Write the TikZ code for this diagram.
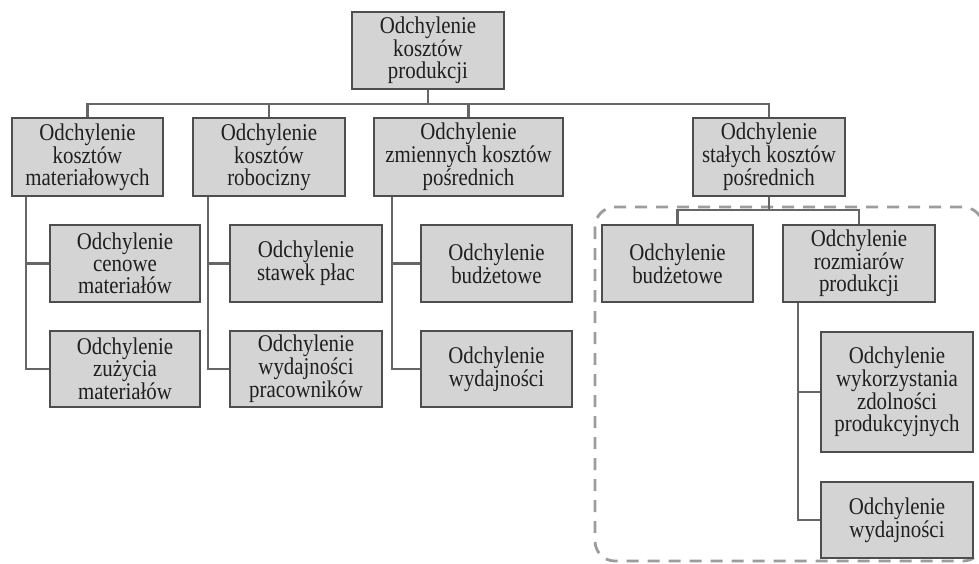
\documentclass[tikz,border=0pt]{standalone}
\usepackage{fontspec}
\setmainfont{Liberation Serif}[FakeStretch=0.87]
\definecolor{boxfill}{HTML}{D4D4D4}
\definecolor{boxline}{HTML}{4E4E4E}
\definecolor{conn}{HTML}{666666}
\definecolor{dashc}{HTML}{9C9C9C}
\tikzset{
  vbox/.style={draw=boxline, fill=boxfill, line width=2.6pt, align=center,
    inner sep=0pt, font=\fontsize{24}{21.8}\selectfont, text=black!88},
  link/.style={draw=conn, line width=2.2pt},
  grp/.style={draw=dashc, line width=2.8pt, dash pattern=on 12pt off 9pt, rounded corners=20pt}
}
\begin{document}
\begin{tikzpicture}[x=1pt,y=-1pt]
\useasboundingbox (0,0) rectangle (979,563);
\begin{scope}
\clip (0,0) rectangle (979,563);
\draw[grp] (595,207) rectangle (983,561);
\end{scope}
\node[vbox, minimum width=152pt, minimum height=77pt] (top) at (428,50.5) {Odchylenie\\kosztów\\produkcji};
\node[vbox, minimum width=151pt, minimum height=78pt] (b1) at (87.5,157) {Odchylenie\\kosztów\\materiałowych};
\node[vbox, minimum width=152pt, minimum height=78pt] (b2) at (269,157) {Odchylenie\\kosztów\\robocizny};
\node[vbox, minimum width=189pt, minimum height=78pt] (b3) at (468.5,157) {Odchylenie\\zmiennych kosztów\\pośrednich};
\node[vbox, minimum width=152pt, minimum height=78pt] (b4) at (769,157) {Odchylenie\\stałych kosztów\\pośrednich};
\node[vbox, minimum width=150pt, minimum height=77pt] (c11) at (125,263.5) {Odchylenie\\cenowe\\materiałów};
\node[vbox, minimum width=150pt, minimum height=76pt] (c12) at (125,369) {Odchylenie\\zużycia\\materiałów};
\node[vbox, minimum width=152pt, minimum height=77pt] (c21) at (306,263.5) {Odchylenie\\stawek płac};
\node[vbox, minimum width=152pt, minimum height=76pt] (c22) at (306,369) {Odchylenie\\wydajności\\pracowników};
\node[vbox, minimum width=151pt, minimum height=77pt] (c31) at (496.5,263.5) {Odchylenie\\budżetowe};
\node[vbox, minimum width=151pt, minimum height=76pt] (c32) at (496.5,369) {Odchylenie\\wydajności};
\node[vbox, minimum width=151pt, minimum height=77pt] (c41) at (677.5,263.5) {Odchylenie\\budżetowe};
\node[vbox, minimum width=152pt, minimum height=77pt] (c42) at (859,263.5) {Odchylenie\\rozmiarów\\produkcji};
\node[vbox, minimum width=152pt, minimum height=120pt] (d1) at (897,392) {Odchylenie\\wykorzystania\\zdolności\\produkcyjnych};
\node[vbox, minimum width=152pt, minimum height=76pt] (d2) at (897,520) {Odchylenie\\wydajności};
% connectors
\foreach \b in {b1,b2,b3,b4}
  \draw[link] (top.south) -- ++(0,14) -| (\b.north);
\draw[link] ([xshift=15pt]b1.south west) |- (c11.west);
\draw[link] ([xshift=15pt]b1.south west) |- (c12.west);
\draw[link] ([xshift=16pt]b2.south west) |- (c21.west);
\draw[link] ([xshift=16pt]b2.south west) |- (c22.west);
\draw[link] ([xshift=19pt]b3.south west) |- (c31.west);
\draw[link] ([xshift=19pt]b3.south west) |- (c32.west);
\draw[link] (b4.south) -- ++(0,13) -| (c41.north);
\draw[link] (b4.south) -- ++(0,13) -| (c42.north);
\draw[link] ([xshift=16pt]c42.south west) |- (d1.west);
\draw[link] ([xshift=16pt]c42.south west) |- (d2.west);
\end{tikzpicture}
\end{document}
